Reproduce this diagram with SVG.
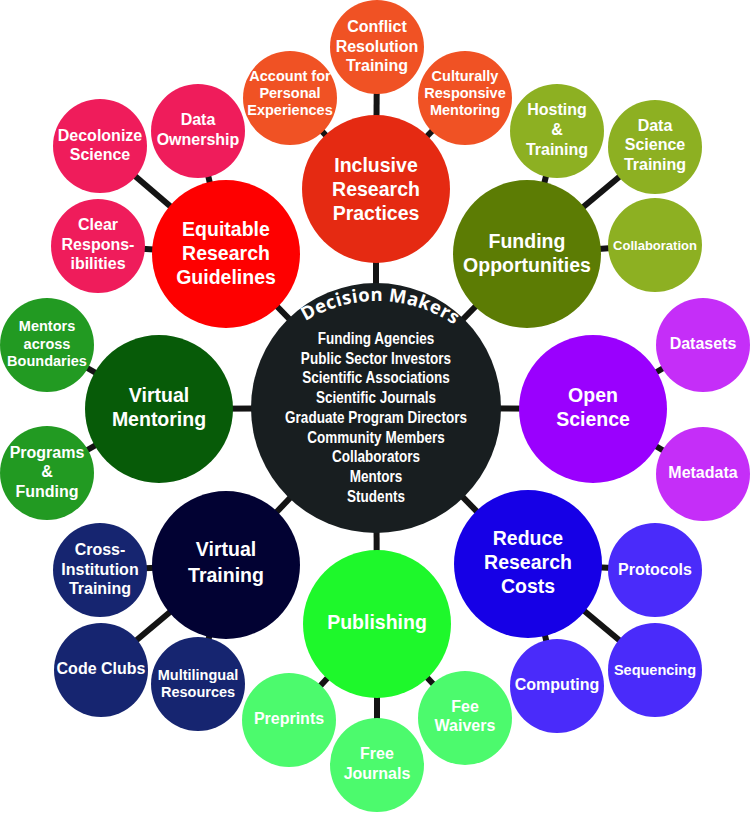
<svg xmlns="http://www.w3.org/2000/svg" width="750" height="813" viewBox="0 0 750 813">
<defs>
<style>
.t{font-family:"Liberation Sans",Arial,Helvetica,sans-serif;font-weight:bold;fill:#ffffff;text-anchor:middle}
.big{font-size:19.5px}
.sm{font-size:16px}
.xs{font-size:14.5px}
.xxs{font-size:13px}
.ctr{font-size:16.5px}
.link{stroke:#141414;stroke-width:6;fill:none}
.dm{font-family:"Open Sans","Liberation Sans",sans-serif;font-weight:bold;font-size:18.5px;letter-spacing:0.4px;fill:#ffffff}
</style>
<path id="arc" d="M 240 438 A 137 137 0 0 1 514 438"/>
</defs>
<rect x="0" y="0" width="750" height="813" fill="#ffffff"/>

<g id="connectors">
<line class="link" x1="376" y1="408" x2="376" y2="189"/>
<line class="link" x1="376" y1="408" x2="226" y2="254"/>
<line class="link" x1="376" y1="408" x2="527" y2="254"/>
<line class="link" x1="376" y1="408" x2="159" y2="409"/>
<line class="link" x1="376" y1="408" x2="593" y2="409"/>
<line class="link" x1="376" y1="408" x2="226" y2="565"/>
<line class="link" x1="376" y1="408" x2="528" y2="564"/>
<line class="link" x1="376" y1="408" x2="377" y2="624"/>
<line class="link" x1="376" y1="189" x2="377" y2="47"/>
<line class="link" x1="376" y1="189" x2="290" y2="97"/>
<line class="link" x1="376" y1="189" x2="465" y2="97"/>
<line class="link" x1="226" y1="254" x2="198" y2="131"/>
<line class="link" x1="226" y1="254" x2="100" y2="146"/>
<line class="link" x1="226" y1="254" x2="98" y2="246"/>
<line class="link" x1="527" y1="254" x2="557" y2="131"/>
<line class="link" x1="527" y1="254" x2="655" y2="147"/>
<line class="link" x1="527" y1="254" x2="655" y2="245"/>
<line class="link" x1="159" y1="409" x2="47" y2="345"/>
<line class="link" x1="159" y1="409" x2="47" y2="473"/>
<line class="link" x1="593" y1="409" x2="703" y2="345"/>
<line class="link" x1="593" y1="409" x2="703" y2="474"/>
<line class="link" x1="226" y1="565" x2="100" y2="570"/>
<line class="link" x1="226" y1="565" x2="101" y2="670"/>
<line class="link" x1="226" y1="565" x2="198" y2="684"/>
<line class="link" x1="528" y1="564" x2="655" y2="570"/>
<line class="link" x1="528" y1="564" x2="655" y2="670"/>
<line class="link" x1="528" y1="564" x2="557" y2="686"/>
<line class="link" x1="377" y1="624" x2="289" y2="720"/>
<line class="link" x1="377" y1="624" x2="377" y2="765"/>
<line class="link" x1="377" y1="624" x2="465" y2="718"/>
</g>

<g id="decision-makers">
<circle cx="376" cy="408" r="125" fill="#181e20"/>
<text class="dm"><textPath href="#arc" startOffset="50.8%" text-anchor="middle">Decision Makers</textPath></text>
<g transform="translate(376 0) scale(0.82 1)">
<text class="t ctr" x="0" y="344">Funding Agencies</text>
<text class="t ctr" x="0" y="363.75">Public Sector Investors</text>
<text class="t ctr" x="0" y="383.5">Scientific Associations</text>
<text class="t ctr" x="0" y="403.25">Scientific Journals</text>
<text class="t ctr" x="0" y="423">Graduate Program Directors</text>
<text class="t ctr" x="0" y="442.75">Community Members</text>
<text class="t ctr" x="0" y="462.5">Collaborators</text>
<text class="t ctr" x="0" y="482.25">Mentors</text>
<text class="t ctr" x="0" y="502">Students</text>
</g>
</g>

<g id="inclusive-research-practices">
<circle cx="376" cy="189" r="74" fill="#e52a12"/>
<text class="t big" x="376" y="172">Inclusive</text>
<text class="t big" x="376" y="196">Research</text>
<text class="t big" x="376" y="220">Practices</text>
</g>
<g id="conflict-resolution-training">
<circle cx="377" cy="47" r="47" fill="#f05224"/>
<text class="t sm" x="377" y="32">Conflict</text>
<text class="t sm" x="377" y="51.5">Resolution</text>
<text class="t sm" x="377" y="71">Training</text>
</g>
<g id="account-personal-experiences">
<circle cx="290" cy="98" r="47" fill="#f05224"/>
<text class="t xs" x="290" y="81">Account for</text>
<text class="t xs" x="290" y="98">Personal</text>
<text class="t xs" x="290" y="115">Experiences</text>
</g>
<g id="culturally-responsive-mentoring">
<circle cx="465" cy="98" r="47" fill="#f05224"/>
<text class="t xs" x="465" y="81">Culturally</text>
<text class="t xs" x="465" y="98">Responsive</text>
<text class="t xs" x="465" y="115">Mentoring</text>
</g>

<g id="equitable-research-guidelines">
<circle cx="226" cy="254" r="74" fill="#fe0000"/>
<text class="t big" x="226" y="236">Equitable</text>
<text class="t big" x="226" y="260">Research</text>
<text class="t big" x="226" y="284">Guidelines</text>
</g>
<g id="data-ownership">
<circle cx="198" cy="131" r="47" fill="#ef1c5b"/>
<text class="t sm" x="198" y="125">Data</text>
<text class="t sm" x="198" y="145">Ownership</text>
</g>
<g id="decolonize-science">
<circle cx="100" cy="146" r="47" fill="#ef1c5b"/>
<text class="t sm" x="100" y="141">Decolonize</text>
<text class="t sm" x="100" y="160">Science</text>
</g>
<g id="clear-responsibilities">
<circle cx="98" cy="246" r="47" fill="#ef1c5b"/>
<text class="t sm" x="98" y="230">Clear</text>
<text class="t sm" x="98" y="249.5">Respons-</text>
<text class="t sm" x="98" y="268.5">ibilities</text>
</g>

<g id="funding-opportunities">
<circle cx="527" cy="254" r="74" fill="#5c7c04"/>
<text class="t big" x="527" y="248">Funding</text>
<text class="t big" x="527" y="272">Opportunities</text>
</g>
<g id="hosting-training">
<circle cx="557" cy="131" r="47" fill="#8db022"/>
<text class="t sm" x="557" y="115">Hosting</text>
<text class="t sm" x="557" y="135">&amp;</text>
<text class="t sm" x="557" y="155">Training</text>
</g>
<g id="data-science-training">
<circle cx="655" cy="147" r="47" fill="#8db022"/>
<text class="t sm" x="655" y="131">Data</text>
<text class="t sm" x="655" y="150">Science</text>
<text class="t sm" x="655" y="170">Training</text>
</g>
<g id="collaboration">
<circle cx="655" cy="245" r="47" fill="#8db022"/>
<text class="t xxs" x="655" y="249.5">Collaboration</text>
</g>

<g id="virtual-mentoring">
<circle cx="159" cy="409" r="74" fill="#075b08"/>
<text class="t big" x="159" y="402">Virtual</text>
<text class="t big" x="159" y="426">Mentoring</text>
</g>
<g id="mentors-across-boundaries">
<circle cx="47" cy="345" r="47" fill="#229a22"/>
<text class="t xs" x="47" y="331">Mentors</text>
<text class="t xs" x="47" y="348.5">across</text>
<text class="t xs" x="47" y="366">Boundaries</text>
</g>
<g id="programs-funding">
<circle cx="47" cy="473" r="47" fill="#229a22"/>
<text class="t sm" x="47" y="457.5">Programs</text>
<text class="t sm" x="47" y="477">&amp;</text>
<text class="t sm" x="47" y="497">Funding</text>
</g>

<g id="open-science">
<circle cx="593" cy="409" r="74" fill="#9a00fe"/>
<text class="t big" x="593" y="402">Open</text>
<text class="t big" x="593" y="426">Science</text>
</g>
<g id="datasets">
<circle cx="703" cy="345" r="47" fill="#c52ef8"/>
<text class="t sm" x="703" y="349">Datasets</text>
</g>
<g id="metadata">
<circle cx="703" cy="474" r="47" fill="#c52ef8"/>
<text class="t sm" x="703" y="477.5">Metadata</text>
</g>

<g id="virtual-training">
<circle cx="226" cy="565" r="74" fill="#020233"/>
<text class="t big" x="226" y="556">Virtual</text>
<text class="t big" x="226" y="582">Training</text>
</g>
<g id="cross-institution-training">
<circle cx="100" cy="570" r="47" fill="#162570"/>
<text class="t sm" x="100" y="555">Cross-</text>
<text class="t sm" x="100" y="574.5">Institution</text>
<text class="t sm" x="100" y="594">Training</text>
</g>
<g id="code-clubs">
<circle cx="101" cy="670" r="47" fill="#162570"/>
<text class="t sm" x="101" y="673.5">Code Clubs</text>
</g>
<g id="multilingual-resources">
<circle cx="198" cy="684" r="47" fill="#162570"/>
<text class="t xs" x="198" y="680">Multilingual</text>
<text class="t xs" x="198" y="697">Resources</text>
</g>

<g id="reduce-research-costs">
<circle cx="528" cy="564" r="74" fill="#1600e6"/>
<text class="t big" x="528" y="545">Reduce</text>
<text class="t big" x="528" y="569">Research</text>
<text class="t big" x="528" y="593">Costs</text>
</g>
<g id="protocols">
<circle cx="655" cy="570" r="47" fill="#4a2bfa"/>
<text class="t sm" x="655" y="575">Protocols</text>
</g>
<g id="sequencing">
<circle cx="655" cy="670" r="47" fill="#4a2bfa"/>
<text class="t xs" x="655" y="675">Sequencing</text>
</g>
<g id="computing">
<circle cx="557" cy="686" r="47" fill="#4a2bfa"/>
<text class="t sm" x="557" y="690">Computing</text>
</g>

<g id="publishing">
<circle cx="377" cy="624" r="74" fill="#1ef82b"/>
<text class="t big" x="377" y="629">Publishing</text>
</g>
<g id="preprints">
<circle cx="289" cy="720" r="47" fill="#4cfa6d"/>
<text class="t sm" x="289" y="723.5">Preprints</text>
</g>
<g id="free-journals">
<circle cx="377" cy="765" r="47" fill="#4cfa6d"/>
<text class="t sm" x="377" y="759">Free</text>
<text class="t sm" x="377" y="778.5">Journals</text>
</g>
<g id="fee-waivers">
<circle cx="465" cy="718" r="47" fill="#4cfa6d"/>
<text class="t sm" x="465" y="711.5">Fee</text>
<text class="t sm" x="465" y="731">Waivers</text>
</g>
</svg>
